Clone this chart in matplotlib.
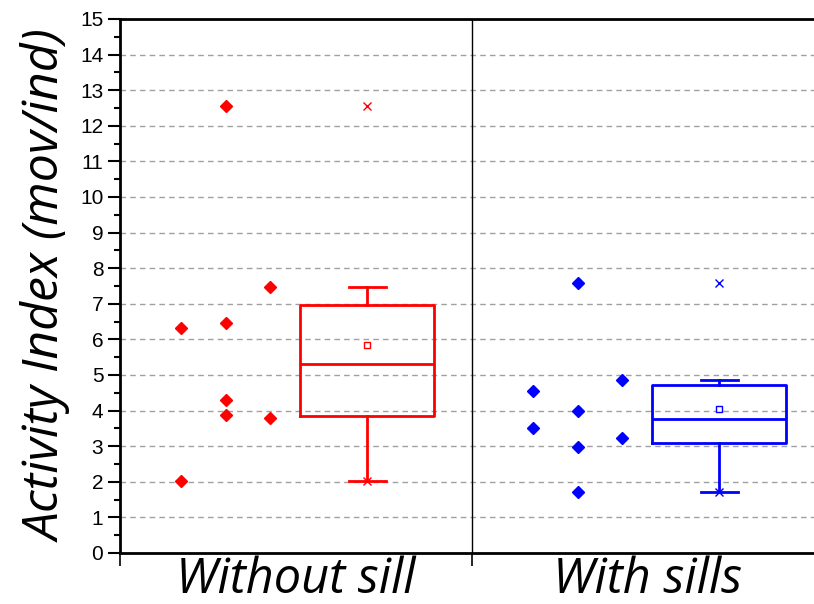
import numpy as np
import matplotlib.pyplot as plt
from matplotlib.ticker import MultipleLocator, FixedLocator

# values
categories = ["Without sill", "With sills"]
without_sill = [6.32, 2.03, 12.55, 6.45, 4.30, 3.87, 7.47, 3.80]
with_sills = [4.55, 3.52, 7.58, 4.00, 2.97, 1.70, 4.87, 3.23]
# which jitter lane each point sits in (left / middle / right)
without_lane = [-1, -1, 0, 0, 0, 0, 1, 1]
with_lane = [-1, -1, 0, 0, 0, 0, 1, 1]

colors = ["#ff0000", "#0000ff"]
plt.rcParams['font.family'] = ['Liberation Sans', 'DejaVu Sans']


def tukey_stats(vals, label):
    v = np.sort(np.asarray(vals))
    n = len(v)
    lo, hi = v[:n // 2], v[(n + 1) // 2:]
    q1, q3 = np.median(lo), np.median(hi)
    iqr = q3 - q1
    inside = v[(v >= q1 - 1.5 * iqr) & (v <= q3 + 1.5 * iqr)]
    return dict(label=label, med=np.median(v), q1=q1, q3=q3,
                whislo=inside.min(), whishi=inside.max(),
                fliers=[], mean=v.mean())


fig = plt.figure(figsize=(8.14, 6.04), dpi=100)
ax = fig.add_axes([120 / 814, 51 / 604, 704 / 814, 534 / 604])

for i, (vals, lanes, c) in enumerate(zip([without_sill, with_sills],
                                         [without_lane, with_lane], colors)):
    xs = i + 0.30 + 0.127 * np.array(lanes)
    ax.plot(xs, vals, ls='none', marker='D', ms=6, color=c, zorder=3)

    st = tukey_stats(vals, categories[i])
    props = dict(color=c, lw=2)
    ax.bxp([st], positions=[i + 0.702], widths=0.38, showmeans=True,
           showfliers=False, boxprops=props, whiskerprops=props,
           capprops=props, medianprops=props, capwidths=0.105,
           meanprops=dict(marker='s', ms=5, mfc='white', mec=c, mew=1),
           zorder=3)
    ax.plot([i + 0.702] * 2, [min(vals), max(vals)], ls='none', marker='x',
            ms=6, mew=1, color=c, zorder=4)

ax.axvline(1, color='black', lw=1, zorder=2)

ax.set_xlim(0, 2)
ax.set_ylim(0, 15)
ax.yaxis.set_major_locator(MultipleLocator(1))
ax.yaxis.set_minor_locator(MultipleLocator(0.5))
ax.tick_params(axis='y', which='major', length=9, width=1.5, labelsize=15, pad=3)
ax.tick_params(axis='y', which='minor', length=4, width=1.5)
ax.yaxis.grid(True, which='major', ls=(0, (4, 3)), color='#a0a0a0', lw=1)
ax.set_axisbelow(True)

ax.set_xticks([0.5, 1.5])
ax.set_xticklabels(categories, fontsize=35, style='italic', family='Open Sans')
ax.xaxis.set_minor_locator(FixedLocator([0, 1, 2]))
ax.tick_params(axis='x', which='major', length=0, pad=2)
ax.tick_params(axis='x', which='minor', length=9, width=1.2)

ax.set_ylabel("Activity Index (mov/ind)", fontsize=36, style='italic',
              family='Open Sans', labelpad=5)

for s in ax.spines.values():
    s.set_linewidth(2)
ax.spines['right'].set_visible(False)

fig.savefig("out.png", dpi=100)
